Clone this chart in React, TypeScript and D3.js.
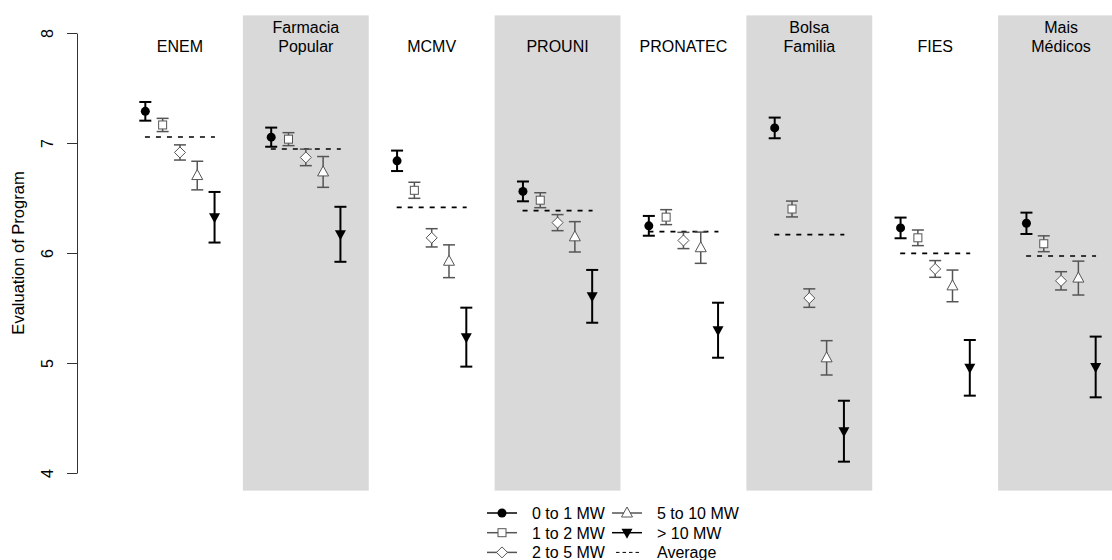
import React, { useEffect, useRef } from "react";
import * as d3 from "d3";

// programs (panels), two-line names split on \n
const programs = [
  "ENEM",
  "Farmacia\nPopular",
  "MCMV",
  "PROUNI",
  "PRONATEC",
  "Bolsa\nFamilia",
  "FIES",
  "Mais\nMédicos",
];

// mean evaluation by income group (minimum wages)
const mean0to1 = [7.288, 7.053, 6.838, 6.56, 6.247, 7.137, 6.228, 6.27];
const mean1to2 = [7.164, 7.035, 6.57, 6.48, 6.326, 6.4, 6.138, 6.084];
const mean2to5 = [6.914, 6.869, 6.138, 6.276, 6.114, 5.59, 5.855, 5.747];
const mean5to10 = [6.704, 6.737, 5.925, 6.147, 6.048, 5.047, 5.701, 5.772];
const meanAbove10 = [6.325, 6.17, 5.235, 5.606, 5.298, 4.38, 4.956, 4.964];

// half-width of confidence intervals
const ci0to1 = [0.085, 0.087, 0.093, 0.09, 0.09, 0.094, 0.094, 0.097];
const ci1to2 = [0.06, 0.059, 0.073, 0.068, 0.068, 0.072, 0.071, 0.072];
const ci2to5 = [0.069, 0.075, 0.083, 0.073, 0.074, 0.084, 0.076, 0.083];
const ci5to10 = [0.13, 0.14, 0.149, 0.138, 0.142, 0.156, 0.144, 0.154];
const ciAbove10 = [0.23, 0.25, 0.268, 0.24, 0.25, 0.277, 0.253, 0.276];

// overall average per program
const average = [7.055, 6.945, 6.415, 6.385, 6.194, 6.167, 5.997, 5.973];

const yTicks = [4, 5, 6, 7, 8];

const groupLabels = ["0 to 1 MW", "1 to 2 MW", "2 to 5 MW", "5 to 10 MW", "> 10 MW"];

const W = 1112;
const H = 560;
const font = "Liberation Sans, Arial, Helvetica, sans-serif";
const GRAY = "#555555";

const series = [
  { means: mean0to1, ci: ci0to1, shape: "circle", color: "#000", lw: 2 },
  { means: mean1to2, ci: ci1to2, shape: "square", color: GRAY, lw: 1.5 },
  { means: mean2to5, ci: ci2to5, shape: "diamond", color: GRAY, lw: 1.5 },
  { means: mean5to10, ci: ci5to10, shape: "up", color: GRAY, lw: 1.5 },
  { means: meanAbove10, ci: ciAbove10, shape: "down", color: "#000", lw: 2 },
];

function Marker({ shape, cx, cy, color }) {
  if (shape === "circle") return <circle cx={cx} cy={cy} r={4.5} fill="#000" />;
  if (shape === "square")
    return <rect x={cx - 4} y={cy - 4} width={8} height={8} fill="#fff" stroke={color} strokeWidth={1} />;
  if (shape === "diamond")
    return (
      <path
        d={`M${cx},${cy - 5.5}L${cx + 5.5},${cy}L${cx},${cy + 5.5}L${cx - 5.5},${cy}Z`}
        fill="#fff"
        stroke={color}
        strokeWidth={1}
      />
    );
  if (shape === "up")
    return (
      <path
        d={`M${cx},${cy - 6}L${cx + 5.5},${cy + 4}L${cx - 5.5},${cy + 4}Z`}
        fill="#fff"
        stroke={color}
        strokeWidth={1}
      />
    );
  return <path d={`M${cx},${cy + 6}L${cx + 5.5},${cy - 4}L${cx - 5.5},${cy - 4}Z`} fill="#000" />;
}

export default function App() {
  const axisRef = useRef(null);

  const y = d3.scaleLinear().domain([4, 8]).range([473, 33]);
  const x = d3.scaleLinear().domain([0.5, 8.5]).range([117, 1124]);
  const step = 0.1375;
  const cap = 6;

  useEffect(() => {
    const g = d3.select(axisRef.current);
    g.selectAll("*").remove();
    g.call(
      d3.axisLeft(y).tickValues(yTicks).tickFormat(d3.format("d")).tickSize(10).tickSizeOuter(0)
    );
    g.select(".domain").attr("stroke", "#333");
    g.selectAll(".tick line").attr("stroke", "#333");
    g.selectAll(".tick text")
      .attr("x", null)
      .attr("dy", null)
      .attr("transform", "translate(-24,0) rotate(-90)")
      .style("text-anchor", "middle")
      .style("font-family", font)
      .style("font-size", "16px")
      .attr("fill", "#000");
  }, []);

  return (
    <svg
      width={W}
      height={H}
      style={{ position: "absolute", left: 0, top: 0, background: "#fff" }}
      fontFamily={font}
    >
      {programs.map((p, i) =>
        i % 2 === 1 ? (
          <rect
            key={"band" + i}
            x={x(i + 0.5)}
            y={y(8.16)}
            width={x(i + 1.5) - x(i + 0.5)}
            height={y(3.84) - y(8.16)}
            fill="#d9d9d9"
          />
        ) : null
      )}

      {programs.map((p, i) => {
        const lines = p.split("\n");
        return (
          <text key={"lab" + i} x={x(i + 1)} textAnchor="middle" fontSize={16} fill="#000">
            {lines.map((l, k) => (
              <tspan key={k} x={x(i + 1)} y={52.3 - (lines.length - 1 - k) * 19.3}>
                {l}
              </tspan>
            ))}
          </text>
        );
      })}

      {average.map((a, i) => (
        <line
          key={"avg" + i}
          x1={x(i + 1 - 0.278)}
          x2={x(i + 1 + 0.278)}
          y1={y(a)}
          y2={y(a)}
          stroke="#000"
          strokeWidth={1.6}
          strokeDasharray="5,6"
        />
      ))}

      {series.map((s, j) =>
        s.means.map((m, i) => {
          const cx = x(i + 1 + (j - 2) * step);
          const lo = y(m - s.ci[i]);
          const hi = y(m + s.ci[i]);
          return (
            <g key={`s${j}-${i}`}>
              <line x1={cx} x2={cx} y1={lo} y2={hi} stroke={s.color} strokeWidth={s.lw} />
              <line x1={cx - cap} x2={cx + cap} y1={lo} y2={lo} stroke={s.color} strokeWidth={s.lw} />
              <line x1={cx - cap} x2={cx + cap} y1={hi} y2={hi} stroke={s.color} strokeWidth={s.lw} />
              <Marker shape={s.shape} cx={cx} cy={y(m)} color={s.color} />
            </g>
          );
        })
      )}

      <g ref={axisRef} transform="translate(77,0)" />
      <text
        transform={`translate(24,${(y(4) + y(8)) / 2}) rotate(-90)`}
        textAnchor="middle"
        fontSize={16.5}
        fill="#000"
      >
        Evaluation of Program
      </text>

      {/* legend */}
      {[...groupLabels.map((l, j) => ({ label: l, s: series[j] })), { label: "Average", s: null }].map((d, k) => {
        const col = Math.floor(k / 3);
        const row = k % 3;
        const lx = col === 0 ? 487 : 612;
        const ly = 513 + row * 19.7;
        return (
          <g key={"leg" + k}>
            {d.s ? (
              <>
                <line x1={lx} x2={lx + 30} y1={ly} y2={ly} stroke={d.s.color} strokeWidth={1.5} />
                <Marker shape={d.s.shape} cx={lx + 15} cy={ly} color={d.s.color} />
              </>
            ) : (
              <line x1={lx + 4} x2={lx + 28} y1={ly} y2={ly} stroke="#000" strokeWidth={1} strokeDasharray="3.5,3" />
            )}
            <text x={lx + 45} y={ly + 6} fontSize={16} fill="#000">
              {d.label}
            </text>
          </g>
        );
      })}
    </svg>
  );
}
